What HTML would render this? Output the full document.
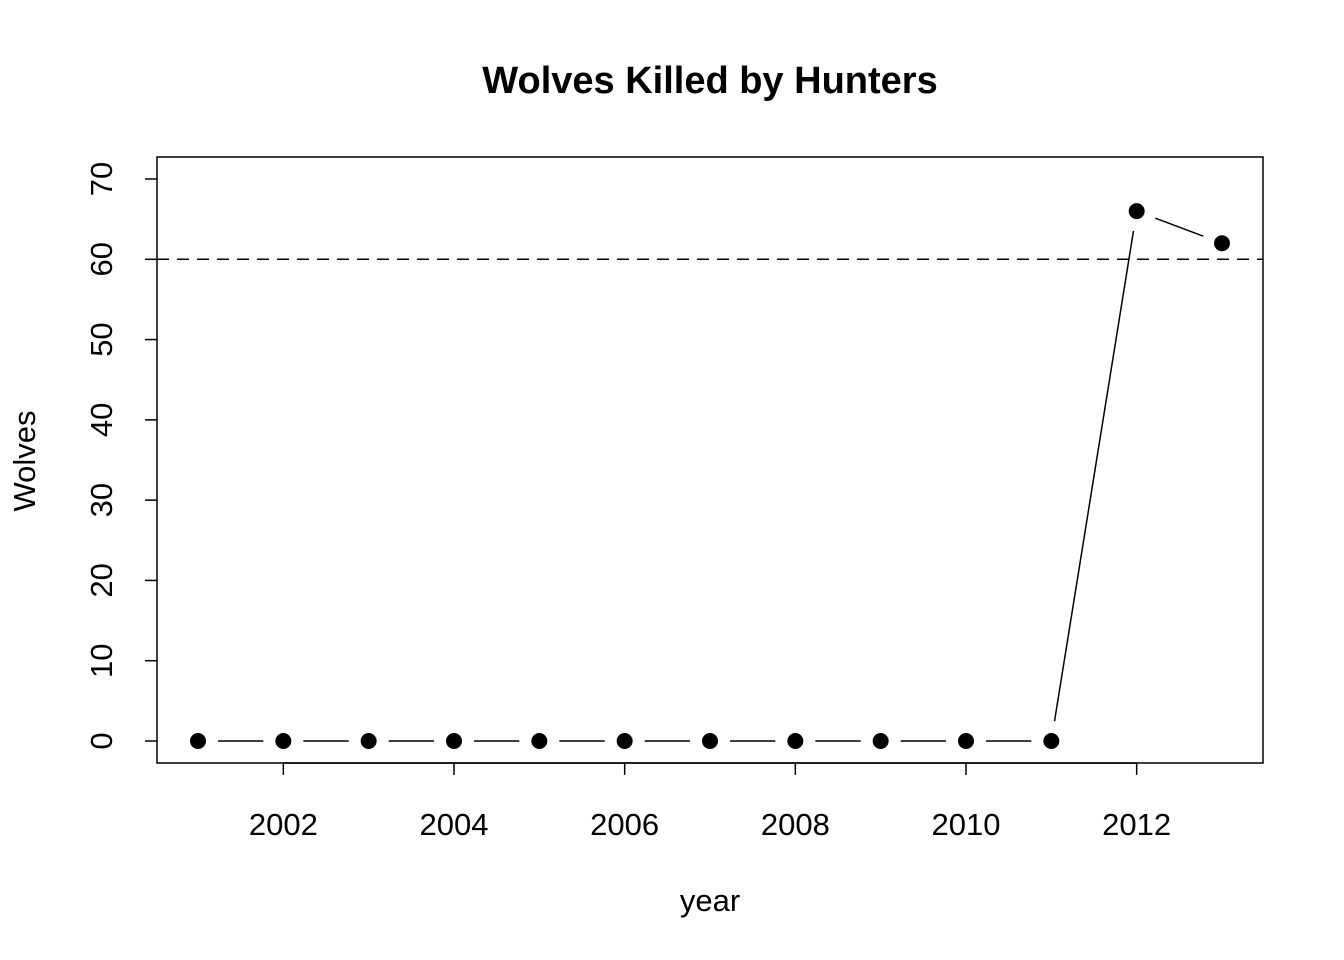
<!DOCTYPE html>
<html><head><meta charset="utf-8"><style>
html,body{margin:0;padding:0;background:#fff;}
svg{display:block;font-family:"Liberation Sans",Arial,sans-serif;}
</style></head><body>
<svg id="chart" width="1344" height="960" viewBox="0 0 1344 960">
<rect width="1344" height="960" fill="#fff"/>
<text x="710" y="93" text-anchor="middle" font-size="38" font-weight="bold">Wolves Killed by Hunters</text>
<rect x="157" y="157" width="1106" height="606" fill="none" stroke="#000" stroke-width="1.5"/>
<text x="710" y="911" text-anchor="middle" font-size="31">year</text>
<text transform="translate(35,461) rotate(-90)" text-anchor="middle" font-size="31">Wolves</text>
<g id="axes"></g>
<g id="marks"></g>
</svg>
<script>
const years = [2001,2002,2003,2004,2005,2006,2007,2008,2009,2010,2011,2012,2013];
const wolves = [0,0,0,0,0,0,0,0,0,0,0,66,62];
const xTicks = [2002,2004,2006,2008,2010,2012];
const yTicks = [0,10,20,30,40,50,60,70];
const threshold = 60;

const NS = "http://www.w3.org/2000/svg";
function xs(v){return 198 + (v-2001)*(1024/12);}
function ys(v){return 741 - v*(562/70);}
function mk(tag, attrs, parent){const e=document.createElementNS(NS,tag);for(const k in attrs)e.setAttribute(k,attrs[k]);parent.appendChild(e);return e;}
const axes=document.getElementById('axes'), marks=document.getElementById('marks');

mk('line',{x1:xs(xTicks[0]),x2:xs(xTicks[xTicks.length-1]),y1:763,y2:763,stroke:'#000','stroke-width':1.5},axes);
xTicks.forEach(t=>{
  const l=mk('line',{x1:xs(t),x2:xs(t),y1:763,y2:775,stroke:'#000','stroke-width':1.5},axes);
  
  
  const tx=mk('text',{x:xs(t),y:835,'text-anchor':'middle','font-size':31},axes);
  tx.textContent=t;
  
  
});
yTicks.forEach(t=>{
  const l=mk('line',{x1:145,x2:157,y1:ys(t),y2:ys(t),stroke:'#000','stroke-width':1.5},axes);
  
  
  const tx=mk('text',{transform:`translate(112,${ys(t)}) rotate(-90)`,'text-anchor':'middle','font-size':31},axes);
  tx.textContent=t;
  
  
});
const ref=mk('line',{x1:157,x2:1263,y1:ys(threshold),y2:ys(threshold),stroke:'#000','stroke-width':1.5,'stroke-dasharray':'12,8'},marks);



const gap=20;
for(let i=0;i<years.length-1;i++){
  const x1=xs(years[i]),y1=ys(wolves[i]),x2=xs(years[i+1]),y2=ys(wolves[i+1]);
  const d=Math.hypot(x2-x1,y2-y1); if(d<=2*gap) continue;
  const ux=(x2-x1)/d,uy=(y2-y1)/d;
  const s=mk('line',{x1:x1+ux*gap,y1:y1+uy*gap,x2:x2-ux*gap,y2:y2-uy*gap,stroke:'#000','stroke-width':1.5},marks);
  
  
}
years.forEach((y,i)=>{
  const c=mk('circle',{cx:xs(y),cy:ys(wolves[i]),r:8,fill:'#000'},marks);
  
  
});
</script>
</body></html>
